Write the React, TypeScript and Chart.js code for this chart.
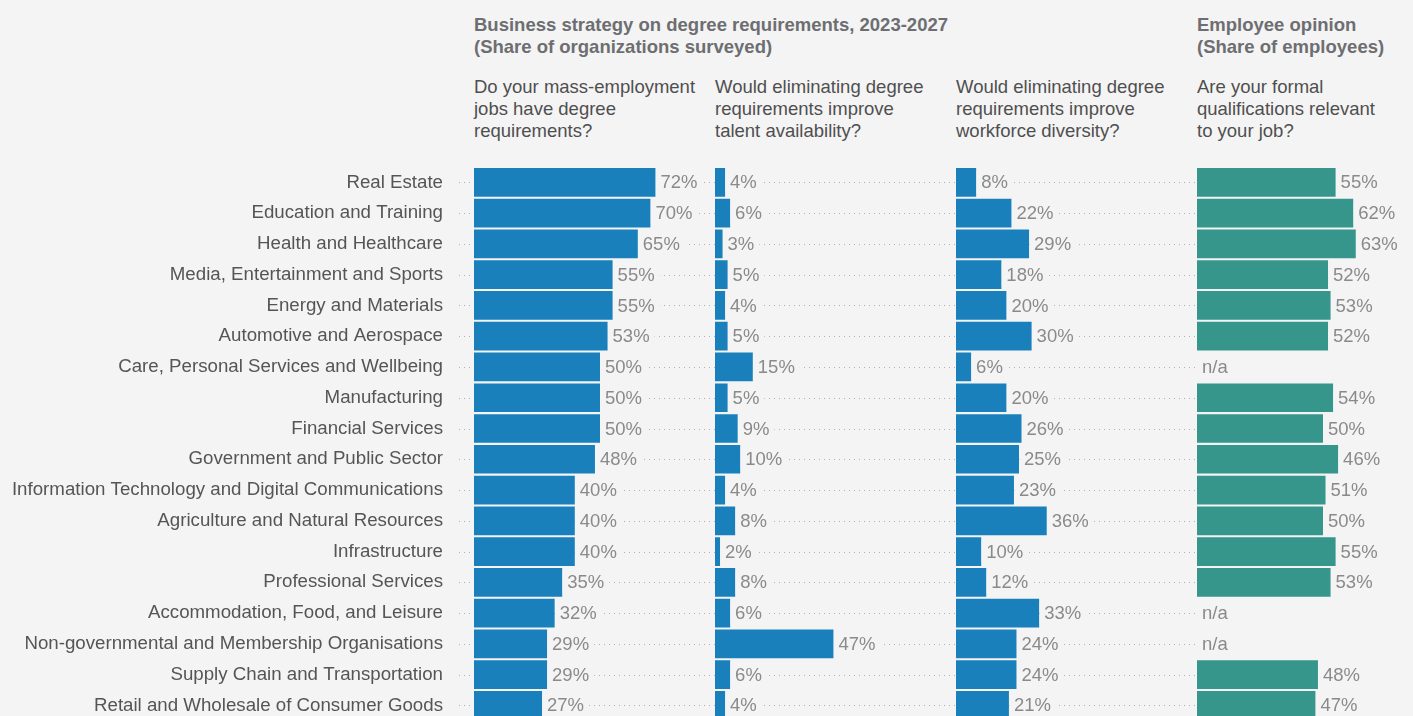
import React, { useEffect, useRef } from 'react';
import { Chart, registerables } from 'chart.js';

Chart.register(...registerables);

const categories = [
  'Real Estate',
  'Education and Training',
  'Health and Healthcare',
  'Media, Entertainment and Sports',
  'Energy and Materials',
  'Automotive and Aerospace',
  'Care, Personal Services and Wellbeing',
  'Manufacturing',
  'Financial Services',
  'Government and Public Sector',
  'Information Technology and Digital Communications',
  'Agriculture and Natural Resources',
  'Infrastructure',
  'Professional Services',
  'Accommodation, Food, and Leisure',
  'Non-governmental and Membership Organisations',
  'Supply Chain and Transportation',
  'Retail and Wholesale of Consumer Goods',
];

const degreeRequirements = [72, 70, 65, 55, 55, 53, 50, 50, 50, 48, 40, 40, 40, 35, 32, 29, 29, 27];
const talentAvailability = [4, 6, 3, 5, 4, 5, 15, 5, 9, 10, 4, 8, 2, 8, 6, 47, 6, 4];
const workforceDiversity = [8, 22, 29, 18, 20, 30, 6, 20, 26, 25, 23, 36, 10, 12, 33, 24, 24, 21];
// bar lengths as drawn in the picture
const qualificationsRelevant = [55, 62, 63, 52, 53, 52, null, 54, 50, 56, 51, 50, 55, 53, null, null, 48, 47];
// numbers as printed next to the bars
const qualificationsPrinted = [55, 62, 63, 52, 53, 52, null, 54, 50, 46, 51, 50, 55, 53, null, null, 48, 47];

const panelTitles = [
  ['Do your mass-employment', 'jobs have degree', 'requirements?'],
  ['Would eliminating degree', 'requirements improve', 'talent availability?'],
  ['Would eliminating degree', 'requirements improve', 'workforce diversity?'],
  ['Are your formal', 'qualifications relevant', 'to your job?'],
];

const FONT = "'Liberation Sans', Arial, Helvetica, sans-serif";
const FONT_SIZE = 18.5;
const LABEL_SIZE = 18.7;
const BLUE = '#1a80bb';
const TEAL = '#36968b';
const BG = '#f4f4f4';
const PX_PER_UNIT = 2.52;
const AXIS_WIDTH = 443;
const AREA_LEFT = 474;
const PANEL_STEP = 241 / PX_PER_UNIT;
const PANEL_OFFSETS = [0, PANEL_STEP, PANEL_STEP * 2, PANEL_STEP * 3];
const X_MIN = -(AREA_LEFT - AXIS_WIDTH) / PX_PER_UNIT;
const X_MAX = (1413 - AREA_LEFT) / PX_PER_UNIT;

const seriesList = [degreeRequirements, talentAvailability, workforceDiversity, qualificationsRelevant];
const printedList = [degreeRequirements, talentAvailability, workforceDiversity, qualificationsPrinted];
const colors = [BLUE, BLUE, BLUE, TEAL];

const decorPlugin = {
  id: 'panelDecor',
  beforeDatasetsDraw(chart: any) {
    const { ctx, scales } = chart;
    const x = scales.x;
    const y = scales.y;
    ctx.save();
    ctx.strokeStyle = '#b0b0b0';
    ctx.lineWidth = 1;
    ctx.setLineDash([1, 4]);
    const x0 = x.getPixelForValue(0) - 15;
    const x1 = x.getPixelForValue(PANEL_OFFSETS[3]) - 1;
    categories.forEach((_, i) => {
      const yy = Math.round(y.getPixelForValue(i)) + 0.5;
      ctx.beginPath();
      ctx.moveTo(x0, yy);
      ctx.lineTo(x1, yy);
      ctx.stroke();
    });
    ctx.restore();
  },
  afterDatasetsDraw(chart: any) {
    const { ctx, scales } = chart;
    const x = scales.x;
    const y = scales.y;
    ctx.save();
    ctx.font = `${FONT_SIZE}px ${FONT}`;
    ctx.textBaseline = 'middle';
    ctx.textAlign = 'left';
    printedList.forEach((arr, d) => {
      const off = PANEL_OFFSETS[d];
      arr.forEach((v, i) => {
        const yy = y.getPixelForValue(i);
        const barVal = seriesList[d][i];
        let text: string;
        let barEnd: number;
        if (v == null || barVal == null) {
          text = 'n/a';
          barEnd = x.getPixelForValue(off);
        } else {
          text = `${v}%`;
          barEnd = x.getPixelForValue(off + barVal);
        }
        const tx = barEnd + 5;
        const w = ctx.measureText(text).width;
        ctx.fillStyle = BG;
        ctx.fillRect(barEnd + 0.5, yy - 11, w + 9.5, 22);
        ctx.fillStyle = '#8a8a8a';
        ctx.fillText(text, tx, yy + 1);
      });
    });
    ctx.restore();
  },
};

export default function App() {
  const canvasRef = useRef<HTMLCanvasElement | null>(null);

  useEffect(() => {
    if (!canvasRef.current) return;
    const chart = new Chart(canvasRef.current, {
      type: 'bar',
      data: {
        labels: categories,
        datasets: seriesList.map((arr, d) => ({
          label: `panel${d}`,
          data: arr.map((v) => (v == null ? null : [PANEL_OFFSETS[d], PANEL_OFFSETS[d] + v])) as any,
          backgroundColor: colors[d],
          borderWidth: 0,
          grouped: false,
          barPercentage: 0.933,
          categoryPercentage: 1,
        })),
      },
      options: {
        indexAxis: 'y',
        responsive: false,
        animation: false,
        events: [],
        layout: { padding: { top: 167, left: 0, right: 0, bottom: 0 } },
        plugins: {
          legend: { display: false },
          tooltip: { enabled: false },
        },
        scales: {
          x: {
            type: 'linear',
            display: false,
            min: X_MIN,
            max: X_MAX,
          },
          y: {
            type: 'category',
            grid: { display: false, drawTicks: false },
            border: { display: false },
            ticks: {
              autoSkip: false,
              color: '#555555',
              padding: 0,
              font: { family: FONT, size: LABEL_SIZE },
            },
            afterFit(scale: any) {
              scale.width = AXIS_WIDTH;
            },
          },
        },
      },
      plugins: [decorPlugin],
    });
    return () => chart.destroy();
  }, []);

  const panelLefts = [474, 715, 956, 1197];

  return (
    <div
      style={{
        position: 'fixed',
        left: 0,
        top: 0,
        width: 1413,
        height: 716,
        overflow: 'hidden',
        background: BG,
        fontFamily: FONT,
      }}
    >
      <div
        style={{
          position: 'absolute',
          left: 474,
          top: 13.5,
          fontSize: FONT_SIZE,
          lineHeight: '22px',
          fontWeight: 700,
          color: '#6d6e71',
          whiteSpace: 'nowrap',
        }}
      >
        Business strategy on degree requirements, 2023-2027
        <br />
        (Share of organizations surveyed)
      </div>
      <div
        style={{
          position: 'absolute',
          left: 1197,
          top: 13.5,
          fontSize: FONT_SIZE,
          lineHeight: '22px',
          fontWeight: 700,
          color: '#6d6e71',
          whiteSpace: 'nowrap',
        }}
      >
        Employee opinion
        <br />
        (Share of employees)
      </div>
      {panelTitles.map((lines, k) => (
        <div
          key={k}
          style={{
            position: 'absolute',
            left: panelLefts[k],
            top: 76,
            fontSize: FONT_SIZE,
            lineHeight: '22px',
            color: '#4f4f4f',
            whiteSpace: 'nowrap',
          }}
        >
          {lines.map((l, j) => (
            <div key={j}>{l}</div>
          ))}
        </div>
      ))}
      <canvas
        ref={canvasRef}
        width={1413}
        height={732}
        style={{ position: 'absolute', left: 0, top: 0, width: 1413, height: 732 }}
      />
    </div>
  );
}
